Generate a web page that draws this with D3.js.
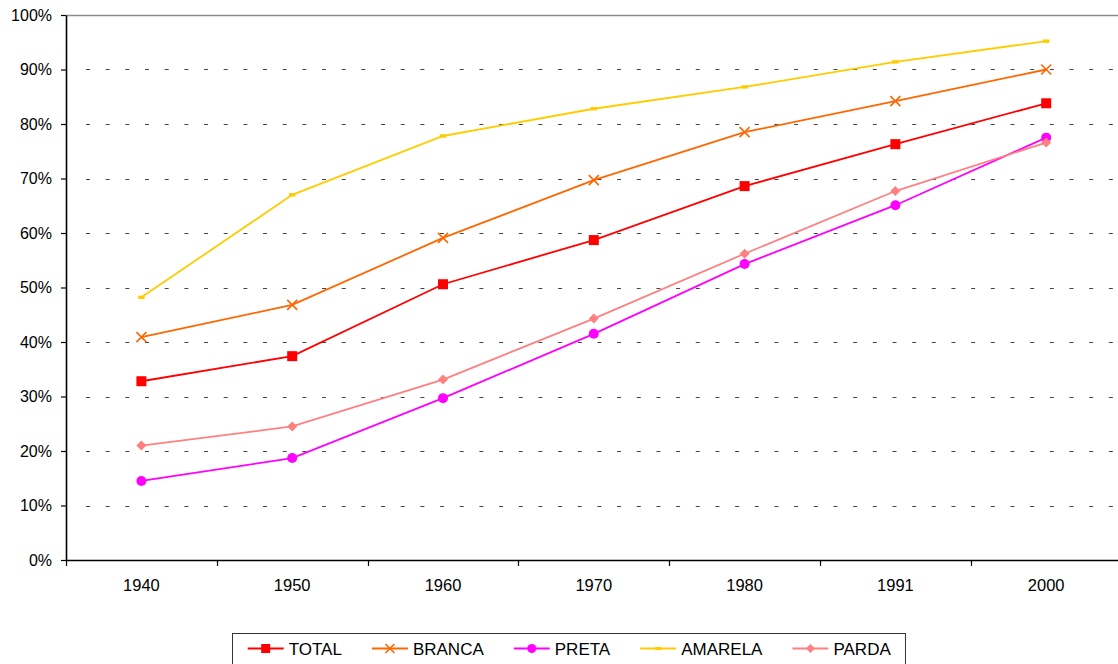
<!DOCTYPE html>
<html>
<head>
<meta charset="utf-8">
<script src="https://cdn.jsdelivr.net/npm/d3@7/dist/d3.min.js"></script>
<style>
  html, body { margin: 0; padding: 0; background: #fff; }
  svg { display: block; font-family: "Liberation Sans", Arial, sans-serif; }
</style>
</head>
<body>
<svg id="chart" width="1118" height="664"></svg>
<script>
// Census years
const years = ["1940", "1950", "1960", "1970", "1980", "1991", "2000"];

// Share per group (fraction of 1)
const total   = [0.328, 0.374, 0.506, 0.587, 0.686, 0.763, 0.838];
const branca  = [0.409, 0.468, 0.591, 0.697, 0.785, 0.842, 0.900];
const preta   = [0.145, 0.187, 0.297, 0.415, 0.543, 0.651, 0.775];
const amarela = [0.482, 0.670, 0.778, 0.828, 0.868, 0.914, 0.952];
const parda   = [0.210, 0.245, 0.331, 0.443, 0.562, 0.677, 0.766];

// Y tick values
const yTicks = [0, 0.1, 0.2, 0.3, 0.4, 0.5, 0.6, 0.7, 0.8, 0.9, 1.0];

const seriesNames  = ["TOTAL", "BRANCA", "PRETA", "AMARELA", "PARDA"];
const seriesValues = [total, branca, preta, amarela, parda];
const seriesColors = ["#ff0000", "#ff6600", "#ff00ff", "#ffcc00", "#ff8080"];
const seriesMarks  = ["square", "cross", "circle", "dash", "diamond"];

const svg = d3.select("#chart");

const plot = { left: 66, top: 15, bottom: 560, right: 1121.6 };

const x = d3.scaleBand().domain(years).range([plot.left, plot.right]).padding(0);
const y = d3.scaleLinear().domain([0, 1]).range([plot.bottom, plot.top]);
const cx = d => x(d) + x.bandwidth() / 2;

// Dashed horizontal gridlines
svg.append("g")
  .selectAll("line")
  .data(yTicks.filter(t => t > 0 && t < 1))
  .join("line")
  .attr("x1", plot.left + 20)
  .attr("x2", 1118)
  .attr("y1", d => Math.round(y(d)) + 0.5)
  .attr("y2", d => Math.round(y(d)) + 0.5)
  .attr("stroke", "#444")
  .attr("stroke-width", 1)
  .attr("stroke-dasharray", "4 15.67");

// Solid top border of the plot area
svg.append("line")
  .attr("x1", plot.left).attr("x2", 1118)
  .attr("y1", Math.round(y(1)) + 0.5).attr("y2", Math.round(y(1)) + 0.5)
  .attr("stroke", "#8c8c8c").attr("stroke-width", 1.5);

// Y axis
const yAxis = svg.append("g")
  .attr("transform", `translate(${plot.left},0)`)
  .call(d3.axisLeft(y).tickValues(yTicks).tickFormat(d3.format(".0%"))
    .tickSize(5).tickSizeOuter(0).tickPadding(9));
yAxis.select(".domain").attr("stroke", "#000").attr("stroke-width", 1.6);
yAxis.selectAll(".tick line").attr("stroke", "#000").attr("stroke-width", 1.2);
yAxis.selectAll(".tick text")
  .attr("fill", "#000")
  .style("font-size", "16px")
  .style("font-family", "'Liberation Sans', Arial, sans-serif");

// X axis: labels centred in each band, ticks on band boundaries
const xAxis = svg.append("g")
  .attr("transform", `translate(0,${plot.bottom})`)
  .call(d3.axisBottom(x).tickSize(0).tickSizeOuter(0).tickPadding(19));
xAxis.select(".domain").remove();
xAxis.selectAll(".tick text")
  .attr("fill", "#000")
  .style("font-size", "16.5px")
  .style("font-family", "'Liberation Sans', Arial, sans-serif");

svg.append("line")
  .attr("x1", plot.left).attr("x2", 1118)
  .attr("y1", plot.bottom + 0.5).attr("y2", plot.bottom + 0.5)
  .attr("stroke", "#000").attr("stroke-width", 1.6);

svg.append("g")
  .selectAll("line")
  .data(years)
  .join("line")
  .attr("x1", d => Math.round(x(d)) + 0.5)
  .attr("x2", d => Math.round(x(d)) + 0.5)
  .attr("y1", plot.bottom)
  .attr("y2", plot.bottom + 6)
  .attr("stroke", "#000")
  .attr("stroke-width", 1.2);

// Marker drawing
function drawMarker(g, type, color, s) {
  if (type === "square") {
    g.append("rect").attr("x", -s / 2).attr("y", -s / 2).attr("width", s).attr("height", s)
      .attr("fill", color);
  } else if (type === "cross") {
    const h = s / 2;
    g.append("path").attr("d", `M${-h},${-h}L${h},${h}M${-h},${h}L${h},${-h}`)
      .attr("stroke", color).attr("stroke-width", 1.6).attr("fill", "none");
  } else if (type === "circle") {
    g.append("circle").attr("r", s / 2).attr("fill", color);
  } else if (type === "dash") {
    g.append("rect").attr("x", -s * 0.32).attr("y", -s * 0.17).attr("width", s * 0.64).attr("height", s * 0.34)
      .attr("fill", color);
  } else if (type === "diamond") {
    const h = s / 2;
    g.append("path").attr("d", `M0,${-h}L${h},0L0,${h}L${-h},0Z`).attr("fill", color);
  }
}

// Series lines and markers
const line = d3.line().x((d, i) => cx(years[i])).y(d => y(d));

seriesNames.forEach((name, k) => {
  const g = svg.append("g").attr("class", "series");
  g.append("path")
    .datum(seriesValues[k])
    .attr("d", line)
    .attr("fill", "none")
    .attr("stroke", seriesColors[k])
    .attr("stroke-width", 1.8);
  seriesValues[k].forEach((v, i) => {
    const m = g.append("g").attr("transform", `translate(${cx(years[i])},${y(v)})`);
    drawMarker(m, seriesMarks[k], seriesColors[k], 10);
  });
});

// Legend
const legend = svg.append("g");
const legendBox = legend.append("rect")
  .attr("x", 232.5).attr("y", 633.5)
  .attr("height", 31)
  .attr("fill", "#fff")
  .attr("stroke", "#333")
  .attr("stroke-width", 1);

let lx = 247.7;
const ly = 648.5;
seriesNames.forEach((name, k) => {
  const item = legend.append("g");
  item.append("line")
    .attr("x1", lx).attr("x2", lx + 36)
    .attr("y1", ly).attr("y2", ly)
    .attr("stroke", seriesColors[k]).attr("stroke-width", 2);
  const m = item.append("g").attr("transform", `translate(${lx + 18},${ly})`);
  drawMarker(m, seriesMarks[k], seriesColors[k], 9);
  const t = item.append("text")
    .attr("x", lx + 41)
    .attr("y", ly + 6)
    .attr("fill", "#000")
    .style("font-size", "17px")
    .text(name);
  lx = lx + 41 + t.node().getComputedTextLength() + 30;
});
legendBox.attr("width", lx - 30 + 14.7 - 232.5);
</script>
</body>
</html>
